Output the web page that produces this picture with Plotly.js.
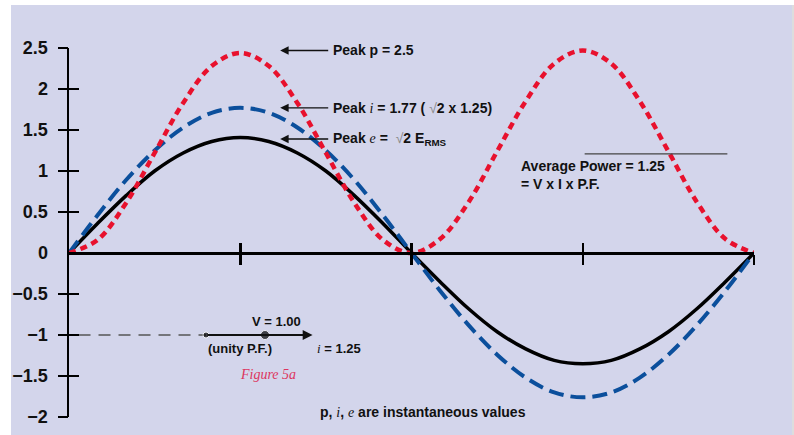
<!DOCTYPE html>
<html>
<head>
<meta charset="utf-8">
<script src="https://cdn.plot.ly/plotly-3.0.1.min.js"></script>
<style>
  html, body { margin: 0; padding: 0; background: #ffffff; width: 794px; height: 435px; overflow: hidden; }
  #chart { position: absolute; left: 11px; top: 5px; width: 781px; height: 430px; border-right: 2px solid #dddddd; }
</style>
</head>
<body>
<div id="chart"></div>
<script>
// ---- data (angle in degrees, one full cycle) ----
const degrees = [0,15,30,45,60,75,90,105,120,135,150,165,180,195,210,225,240,255,270,285,300,315,330,345,360];
const voltageE = [0,0.36,0.70,1.00,1.22,1.36,1.41,1.36,1.22,1.00,0.70,0.36,0,-0.35,-0.68,-0.96,-1.17,-1.31,-1.35,-1.31,-1.17,-0.96,-0.68,-0.35,0];
const currentI = [0,0.46,0.89,1.25,1.53,1.71,1.77,1.71,1.53,1.25,0.89,0.46,0,-0.46,-0.88,-1.24,-1.52,-1.70,-1.76,-1.70,-1.52,-1.24,-0.88,-0.46,0];
const powerP   = [0,0.16,0.61,1.22,1.83,2.28,2.44,2.28,1.83,1.22,0.61,0.16,0,0.17,0.62,1.24,1.85,2.31,2.47,2.31,1.85,1.24,0.62,0.17,0];

const yTickVals = [-2,-1.5,-1,-0.5,0,0.5,1,1.5,2,2.5];
const yTickText = ['\u22122','\u22121.5','\u22121','\u22120.5','0','0.5','1','1.5','2','2.5'];
const xTickVals = [90,180,270,360];

// average power marker line
const avgLineX = [271,346];
const avgLineY = [1.21,1.21];

// phasor diagram (bottom left)
const phasorDashX = [5,72];
const phasorDashY = [-1,-1];
const phasorDotsX = [72,103];
const phasorDotsY = [-1,-1];
const phasorTipX = 128;
const phasorY = -1;

const narrow = 'Liberation Sans Narrow, Arial Narrow, Liberation Sans, Arial, sans-serif';
const serif = 'Liberation Serif, Times New Roman, serif';
const RED = '#e8112d', BLUE = '#0b4f9c';

const yMin = -2, yMax = 2.5;
const xAxisPos = (0 - yMin) / (yMax - yMin);

const traces = [
  {x: degrees, y: voltageE, mode: 'lines', line: {color: '#000000', width: 3.5, shape: 'spline'}, hoverinfo: 'skip', cliponaxis: false},
  {x: degrees, y: currentI, mode: 'lines', line: {color: BLUE, width: 4, shape: 'spline', dash: '15px,7px'}, hoverinfo: 'skip', cliponaxis: false},
  {x: degrees, y: powerP, mode: 'lines', line: {color: RED, width: 4.5, shape: 'spline', dash: '7px,5px'}, hoverinfo: 'skip', cliponaxis: false},
  {x: avgLineX, y: avgLineY, mode: 'lines', line: {color: '#444444', width: 1.3}, hoverinfo: 'skip'},
  {x: phasorDashX, y: phasorDashY, mode: 'lines', line: {color: '#555555', width: 1.5, dash: '12px,8px'}, hoverinfo: 'skip'},
  {x: phasorDotsX, y: phasorDotsY, mode: 'markers', marker: {color: '#000000', size: [6,9]}, hoverinfo: 'skip'},
  // helper traces registering the tick-mark overlay axes
  {x: [null], y: [null], xaxis: 'x2', yaxis: 'y2', hoverinfo: 'skip'},
  {x: [null], y: [null], xaxis: 'x', yaxis: 'y3', hoverinfo: 'skip'}
];

const tickFont = {family: narrow, size: 18, color: '#111111', weight: 'bold'};
const annFont = {family: narrow, size: 14, color: '#111111', weight: 'bold'};
const smallFont = {family: narrow, size: 13, color: '#111111', weight: 'bold'};
const iSym = '<span style="font-family:Liberation Serif;font-weight:normal"><i>i</i></span>';
const eSym = '<span style="font-family:Liberation Serif;font-weight:normal"><i>e</i></span>';
const root2 = '<span style="font-weight:normal;color:#888888">\u221A</span>2';

const maxP = Math.max(...powerP), maxI = Math.max(...currentI), maxE = Math.max(...voltageE);

function peakArrow(yv, text) {
  return {x: 111, y: yv, xref: 'x', yref: 'y', ax: 48, ay: 0, text: text, xanchor: 'left',
          showarrow: true, arrowhead: 2, arrowsize: 1.2, arrowwidth: 1.4, arrowcolor: '#111111',
          font: annFont, borderpad: 4};
}

const annotations = [
  peakArrow(maxP, 'Peak p = 2.5'),
  peakArrow(maxI, 'Peak ' + iSym + ' = 1.77 ( ' + root2 + ' x 1.25)'),
  peakArrow(maxE - 0.02, 'Peak ' + eSym + ' =  ' + root2 + ' E<sub>RMS</sub>'),
  {x: 236.5, y: 0.95, xref: 'x', yref: 'y', text: 'Average Power = 1.25<br>= V x I x P.F.', showarrow: false,
   xanchor: 'left', align: 'left', font: annFont},
  {x: phasorTipX, y: phasorY, xref: 'x', yref: 'y', ax: phasorDotsX[0], ay: phasorY, axref: 'x', ayref: 'y',
   text: '', showarrow: true, arrowhead: 2, arrowsize: 1.1, arrowwidth: 1.8, arrowcolor: '#111111'},
  {x: 108.8, y: -0.83, xref: 'x', yref: 'y', text: 'V = 1.00', showarrow: false, font: smallFont},
  {x: 89.9, y: -1.17, xref: 'x', yref: 'y', text: '(unity P.F.)', showarrow: false, font: smallFont},
  {x: 142, y: -1.17, xref: 'x', yref: 'y', text: iSym + ' = 1.25', showarrow: false, font: smallFont},
  {x: 104.6, y: -1.476, xref: 'x', yref: 'y', text: '<i>Figure 5a</i>', showarrow: false,
   font: {family: serif, size: 14, color: '#dd3560'}},
  {x: 186, y: -1.94, xref: 'x', yref: 'y', text: 'p, ' + iSym + ', ' + eSym + ' are instantaneous values', showarrow: false, font: annFont}
];

const baseY = {range: [yMin, yMax], showgrid: false, zeroline: false, fixedrange: true};
const baseX = {range: [0, 360], showgrid: false, zeroline: false, fixedrange: true};

const layout = {
  width: 781, height: 430,
  margin: {l: 58, r: 38, t: 43, b: 18},
  paper_bgcolor: '#d3d5eb', plot_bgcolor: 'rgba(0,0,0,0)',
  showlegend: false,
  xaxis: Object.assign({}, baseX, {anchor: 'free', position: xAxisPos, showline: true, linecolor: '#000000', linewidth: 2.5,
    tickvals: xTickVals, ticks: 'outside', ticklen: 10, tickwidth: 2.5, tickcolor: '#000000', showticklabels: false}),
  xaxis2: Object.assign({}, baseX, {overlaying: 'x', anchor: 'free', position: xAxisPos, showline: false,
    tickvals: xTickVals, ticks: 'inside', ticklen: 10, tickwidth: 2.5, tickcolor: '#000000', showticklabels: false}),
  yaxis: Object.assign({}, baseY, {showline: true, linecolor: '#000000', linewidth: 2.5, ticks: '',
    tickvals: yTickVals, ticktext: yTickText, tickfont: tickFont, ticklabelstandoff: 15}),
  yaxis2: Object.assign({}, baseY, {overlaying: 'y', anchor: 'x2', side: 'left', showline: false,
    tickvals: yTickVals.filter(v => v !== 0), ticks: 'outside', ticklen: 10, tickwidth: 2.5, tickcolor: '#000000', showticklabels: false}),
  yaxis3: Object.assign({}, baseY, {overlaying: 'y', anchor: 'x', side: 'left', showline: false,
    tickvals: yTickVals.filter(v => v !== 0), ticks: 'inside', ticklen: 10, tickwidth: 2.5, tickcolor: '#000000', showticklabels: false}),
  annotations: annotations
};

Plotly.newPlot('chart', traces, layout, {staticPlot: true, displayModeBar: false});
</script>
</body>
</html>
